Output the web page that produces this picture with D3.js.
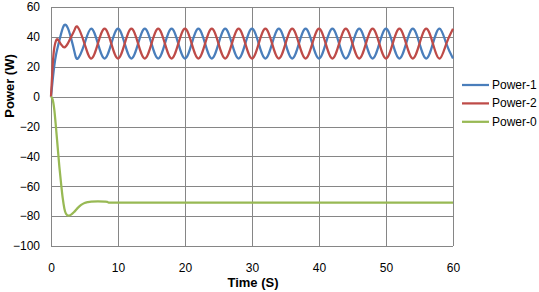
<!DOCTYPE html>
<html>
<head>
<meta charset="utf-8">
<script src="https://cdn.jsdelivr.net/npm/d3@7"></script>
<style>
  body { margin: 0; background: #fff; }
  text { font-family: "Liberation Sans", Arial, sans-serif; fill: #000; }
</style>
</head>
<body>
<div id="chart"></div>
<script>
// time axis for the two oscillating series (s)
var timeOsc = [0, 0.25, 0.5, 0.75, 1, 1.5, 2, 2.5, 3, 3.5, 4,
  5, 6, 7, 8, 9, 10, 11, 12, 13, 14, 15, 16, 17, 18, 19, 20,
  21, 22, 23, 24, 25, 26, 27, 28, 29, 30, 31, 32, 33, 34, 35, 36,
  37, 38, 39, 40, 41, 42, 43, 44, 45, 46, 47, 48, 49, 50, 51, 52,
  53, 54, 55, 56, 57, 58, 59, 60];

var power1 = [0, 11, 21, 28, 33, 42, 48, 46, 39, 30, 25.5,
  35.5, 45.5, 35.5, 25.5, 35.5, 45.5, 35.5, 25.5, 35.5, 45.5, 35.5, 25.5,
  35.5, 45.5, 35.5, 25.5, 35.5, 45.5, 35.5, 25.5, 35.5, 45.5, 35.5, 25.5,
  35.5, 45.5, 35.5, 25.5, 35.5, 45.5, 35.5, 25.5, 35.5, 45.5, 35.5, 25.5,
  35.5, 45.5, 35.5, 25.5, 35.5, 45.5, 35.5, 25.5, 35.5, 45.5, 35.5, 25.5,
  35.5, 45.5, 35.5, 25.5, 35.5, 45.5, 35.5, 25.5];

var power2 = [0, 21, 33, 37.5, 38.3, 35, 33, 35.5, 40, 44.5, 46.5,
  35.5, 25.5, 35.5, 45.5, 35.5, 25.5, 35.5, 45.5, 35.5, 25.5, 35.5, 45.5,
  35.5, 25.5, 35.5, 45.5, 35.5, 25.5, 35.5, 45.5, 35.5, 25.5, 35.5, 45.5,
  35.5, 25.5, 35.5, 45.5, 35.5, 25.5, 35.5, 45.5, 35.5, 25.5, 35.5, 45.5,
  35.5, 25.5, 35.5, 45.5, 35.5, 25.5, 35.5, 45.5, 35.5, 25.5, 35.5, 45.5,
  35.5, 25.5, 35.5, 45.5, 35.5, 25.5, 35.5, 45.5];

// time axis for Power-0
var time0 = [0, 0.25, 0.5, 0.75, 1, 1.25, 1.5, 1.75, 2, 2.25, 2.6, 3, 3.5, 4,
  4.5, 5, 5.5, 6, 7, 8, 8.4, 8.6, 9, 20, 30, 40, 50, 60];
var power0 = [0, -2, -9, -21, -34, -47, -58, -68, -75, -78.5, -79.7, -79, -77, -74.5,
  -72.5, -71.2, -70.6, -70.3, -70.2, -70.3, -70.4, -71, -71, -71, -71, -71, -71, -71];

var xTicks = [0, 10, 20, 30, 40, 50, 60];
var yTicks = [-100, -80, -60, -40, -20, 0, 20, 40, 60];
var seriesNames = ["Power-1", "Power-2", "Power-0"];
var seriesColors = ["#4a7ebb", "#be4b48", "#98b954"];

var width = 539, height = 292;
var plot = {left: 51, top: 7, right: 453, bottom: 246};

var svg = d3.select("#chart").append("svg")
    .attr("width", width)
    .attr("height", height);

var x = d3.scaleLinear().domain([0, 60]).range([plot.left, plot.right]);
var y = d3.scaleLinear().domain([-100, 60]).range([plot.bottom, plot.top]);

// Axes + gridlines
var xAxis = d3.axisBottom(x)
    .tickValues(xTicks)
    .tickSize(-(plot.bottom - plot.top))
    .tickPadding(17.5)
    .tickFormat(d3.format("d"));

var yAxis = d3.axisLeft(y)
    .tickValues(yTicks)
    .tickSize(-(plot.right - plot.left))
    .tickPadding(11)
    .tickFormat(d3.format("d"));

var gx = svg.append("g")
    .attr("transform", "translate(0," + plot.bottom + ")")
    .call(xAxis);
var gy = svg.append("g")
    .attr("transform", "translate(" + plot.left + ",0)")
    .call(yAxis);

[gx, gy].forEach(function(g) {
    g.select(".domain").remove();
    g.selectAll(".tick line")
        .attr("stroke", "#868686")
        .attr("shape-rendering", "crispEdges");
    g.selectAll(".tick text")
        .style("font-size", "12px")
        .attr("fill", "#000");
});

// Lines
function seriesData(times, vals) {
    return times.map(function(t, i) { return {t: t, v: vals[i]}; });
}

var lineNatural = d3.line()
    .x(function(d) { return x(d.t); })
    .y(function(d) { return y(d.v); })
    .curve(d3.curveNatural);

var lineMono = d3.line()
    .x(function(d) { return x(d.t); })
    .y(function(d) { return y(d.v); })
    .curve(d3.curveMonotoneX);

var series = [
    {data: seriesData(timeOsc, power1), line: lineNatural},
    {data: seriesData(timeOsc, power2), line: lineNatural},
    {data: seriesData(time0, power0), line: lineMono}
];

series.forEach(function(s, i) {
    svg.append("path")
        .datum(s.data)
        .attr("fill", "none")
        .attr("stroke", seriesColors[i])
        .attr("stroke-width", 2.25)
        .attr("stroke-linejoin", "round")
        .attr("d", s.line);
});

// Legend
var legend = svg.append("g").selectAll("g")
    .data(seriesNames)
    .enter().append("g")
    .attr("transform", function(d, i) { return "translate(462," + (85 + i * 18.4) + ")"; });

legend.append("line")
    .attr("x1", 0).attr("x2", 27)
    .attr("stroke", function(d, i) { return seriesColors[i]; })
    .attr("stroke-width", 2.25);

legend.append("text")
    .attr("x", 30)
    .attr("y", 4)
    .style("font-size", "12px")
    .text(function(d) { return d; });

// Axis titles
svg.append("text")
    .attr("x", 253)
    .attr("y", 287)
    .attr("text-anchor", "middle")
    .style("font-size", "13px")
    .style("font-weight", "bold")
    .text("Time (S)");

svg.append("text")
    .attr("transform", "translate(14,86) rotate(-90)")
    .attr("text-anchor", "middle")
    .style("font-size", "13px")
    .style("font-weight", "bold")
    .text("Power (W)");
</script>
</body>
</html>
